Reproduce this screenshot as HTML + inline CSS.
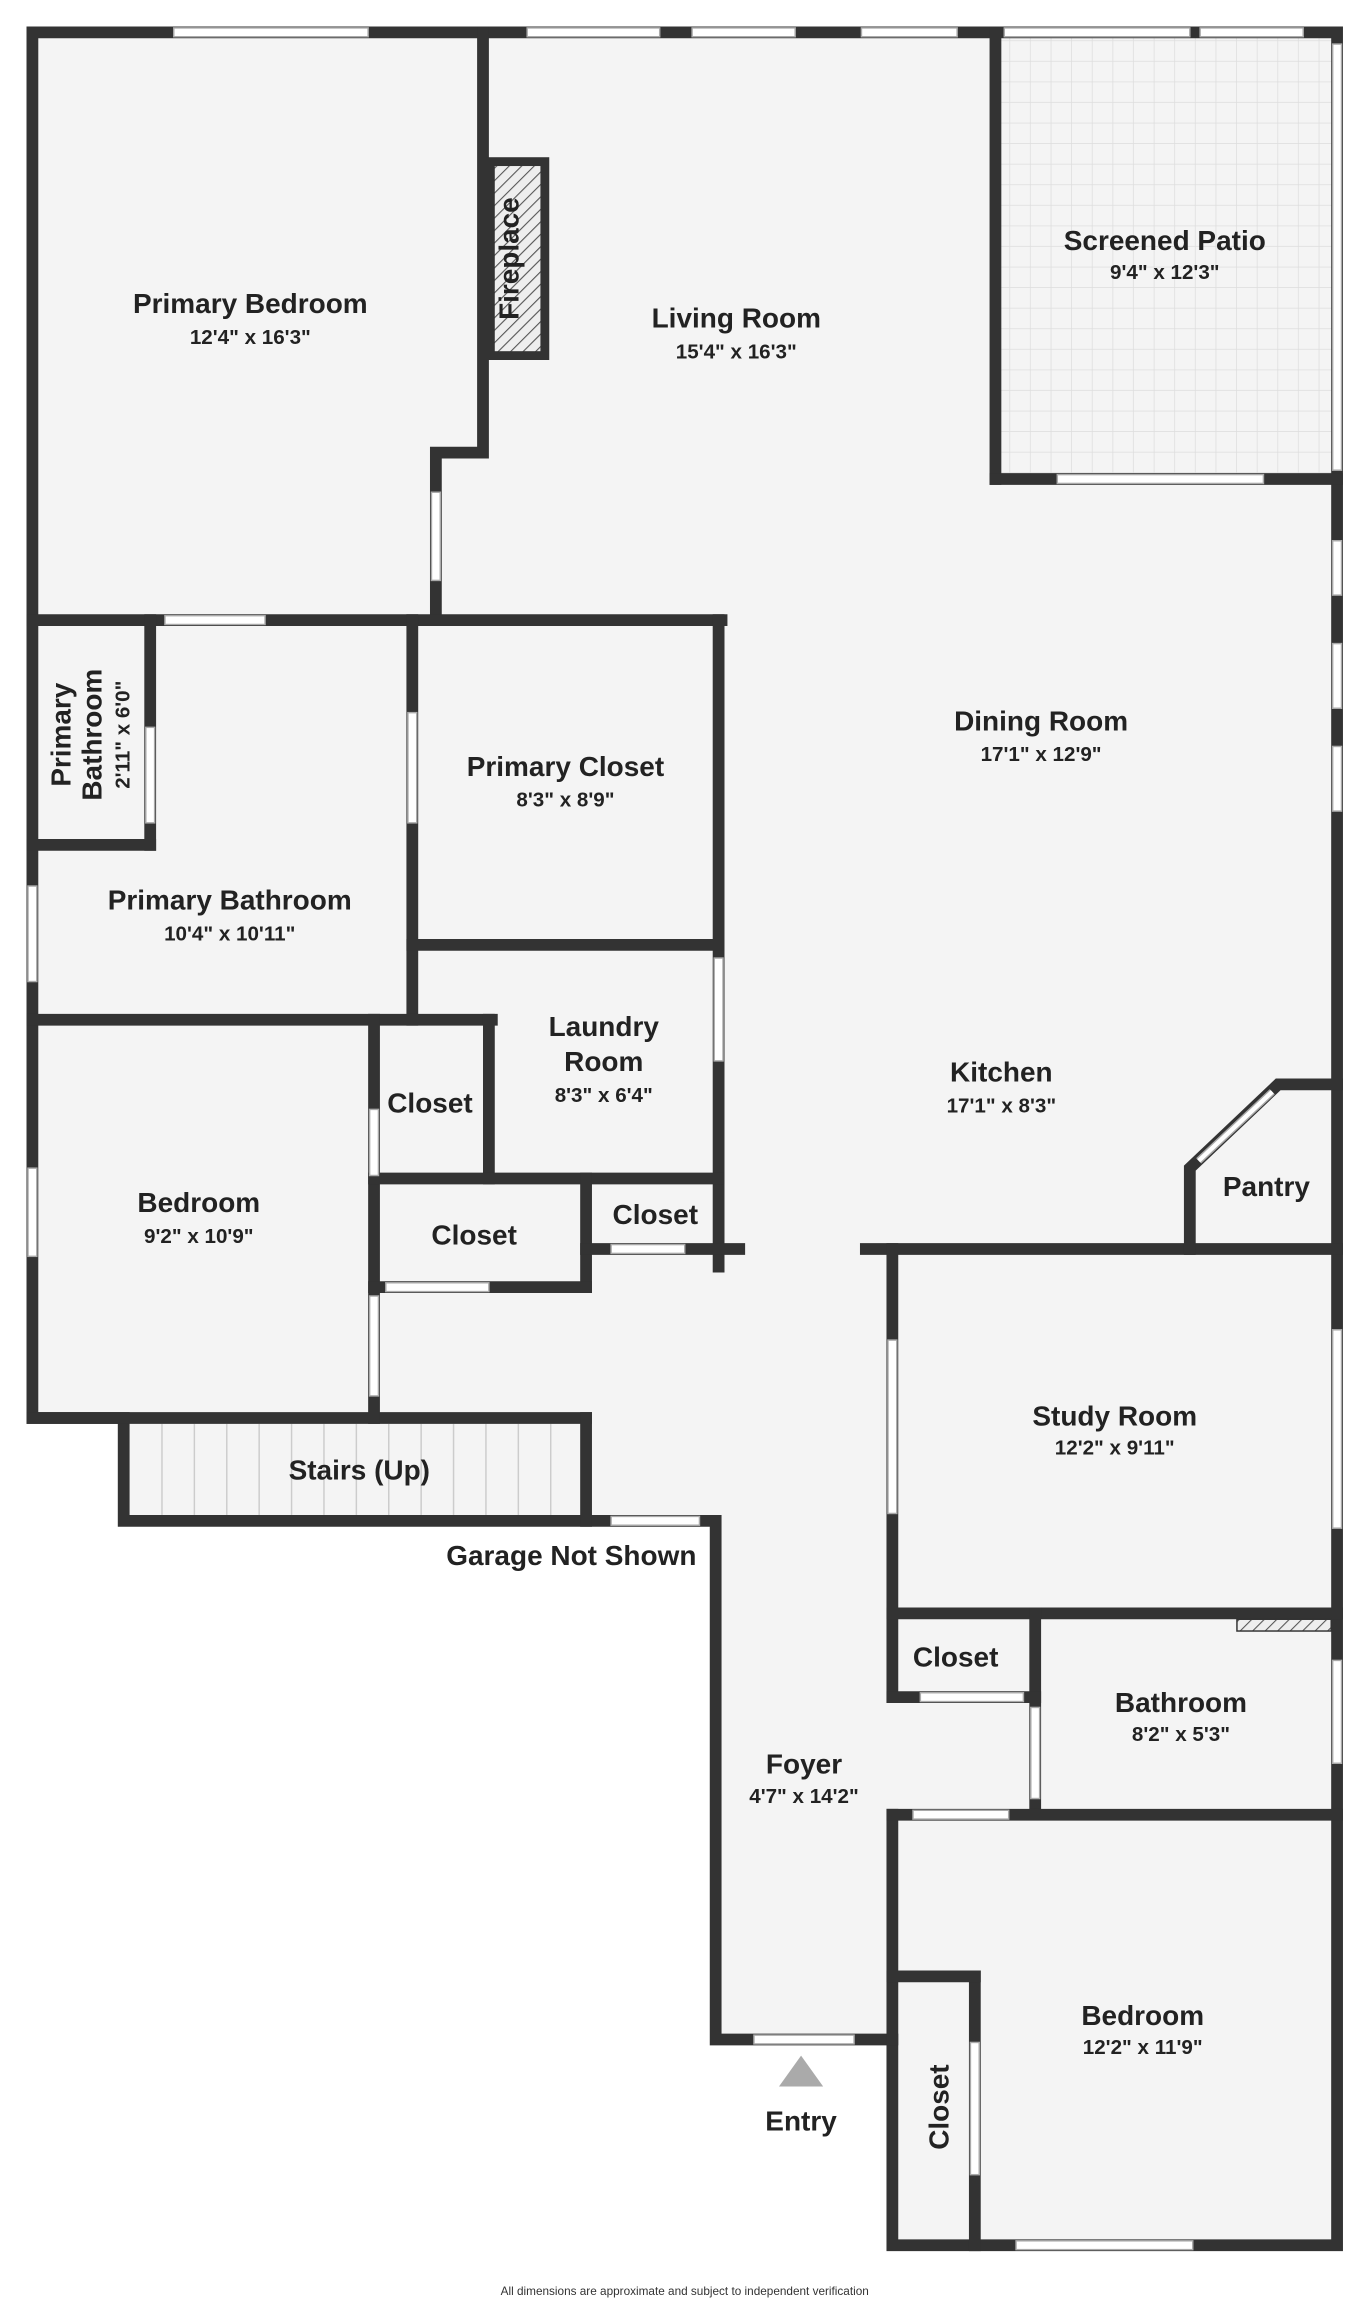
<!DOCTYPE html>
<html><head><meta charset="utf-8"><style>
html,body{margin:0;padding:0;background:#fff;width:1368px;height:2304px;overflow:hidden}
svg{display:block}
.n{font-family:"Liberation Sans",sans-serif;font-weight:bold;font-size:19px;fill:#222;text-anchor:middle}
.d{font-family:"Liberation Sans",sans-serif;font-weight:bold;font-size:14px;fill:#222;text-anchor:middle}
</style></head><body>
<svg width="1368" height="2304" viewBox="0 0 929 1568" preserveAspectRatio="none">
<defs>
<pattern id="grid" width="14" height="14" patternUnits="userSpaceOnUse"><rect width="14" height="14" fill="#f4f4f4"/><path d="M14 0V14H0" fill="none" stroke="#ddd" stroke-width="1"/></pattern>
<pattern id="hatch" width="6" height="6" patternUnits="userSpaceOnUse" patternTransform="rotate(45)"><rect width="6" height="6" fill="#eee"/><line x1="0" y1="0" x2="0" y2="6" stroke="#555" stroke-width="1.5"/></pattern>
</defs>
<rect width="929" height="1568" fill="#fff"/>
<polygon points="22,22 908,22 908,1528 606,1528 606,1388 486,1388 486,1035 84,1035 84,965 22,965" fill="#f4f4f4"/>
<rect x="676" y="22" width="232" height="304" fill="url(#grid)"/>
<g stroke="#ccc" stroke-width="1">
<line x1="110" y1="969" x2="110" y2="1031"/><line x1="132" y1="969" x2="132" y2="1031"/><line x1="154" y1="969" x2="154" y2="1031"/><line x1="176" y1="969" x2="176" y2="1031"/><line x1="198" y1="969" x2="198" y2="1031"/><line x1="220" y1="969" x2="220" y2="1031"/><line x1="242" y1="969" x2="242" y2="1031"/><line x1="264" y1="969" x2="264" y2="1031"/><line x1="286" y1="969" x2="286" y2="1031"/><line x1="308" y1="969" x2="308" y2="1031"/><line x1="330" y1="969" x2="330" y2="1031"/><line x1="352" y1="969" x2="352" y2="1031"/><line x1="374" y1="969" x2="374" y2="1031"/>
</g>
<g stroke="#333" stroke-width="8" fill="none" stroke-linecap="square">
<polygon points="22,22 908,22 908,1528 606,1528 606,1388 486,1388 486,1035 84,1035 84,965 22,965"/>
<line x1="22" y1="965" x2="398" y2="965"/>
<line x1="398" y1="965" x2="398" y2="1035"/>
<polyline points="328,22 328,308 296,308 296,420"/>
<line x1="22" y1="422" x2="490" y2="422"/>
<line x1="102" y1="422" x2="102" y2="575"/>
<line x1="22" y1="575" x2="102" y2="575"/>
<line x1="280" y1="422" x2="280" y2="694"/>
<line x1="488" y1="422" x2="488" y2="862"/>
<line x1="280" y1="643" x2="488" y2="643"/>
<line x1="22" y1="694" x2="334" y2="694"/>
<line x1="332" y1="694" x2="332" y2="802"/>
<line x1="254" y1="694" x2="254" y2="965"/>
<line x1="254" y1="802" x2="488" y2="802"/>
<line x1="398" y1="802" x2="398" y2="876"/>
<line x1="254" y1="876" x2="398" y2="876"/>
<line x1="398" y1="850" x2="502" y2="850"/>
<line x1="588" y1="850" x2="908" y2="850"/>
<polyline points="808,850 808,795 868,738 908,738"/>
<line x1="606" y1="850" x2="606" y2="1155"/>
<line x1="606" y1="1235" x2="606" y2="1388"/>
<line x1="606" y1="1098" x2="908" y2="1098"/>
<line x1="703" y1="1098" x2="703" y2="1232"/>
<line x1="606" y1="1155" x2="703" y2="1155"/>
<line x1="606" y1="1235" x2="908" y2="1235"/>
<line x1="662" y1="1345" x2="662" y2="1528"/>
<line x1="606" y1="1345" x2="662" y2="1345"/>
<line x1="676" y1="22" x2="676" y2="326"/>
<line x1="676" y1="326" x2="908" y2="326"/>
</g>
<rect x="333" y="110" width="37" height="132" fill="url(#hatch)" stroke="#333" stroke-width="6"/>
<rect x="840" y="1102" width="64" height="8" fill="url(#hatch)" stroke="#333" stroke-width="1"/>
<g fill="#fff" stroke="#aaa" stroke-width="1">
<rect x="118" y="19" width="132" height="6"/><rect x="358" y="19" width="90" height="6"/><rect x="470" y="19" width="70" height="6"/><rect x="585" y="19" width="65" height="6"/><rect x="682" y="19" width="126" height="6"/><rect x="815" y="19" width="70" height="6"/>
<rect x="905" y="30" width="6" height="290"/><rect x="905" y="368" width="6" height="37"/><rect x="905" y="438" width="6" height="44"/><rect x="905" y="508" width="6" height="44"/><rect x="905" y="905" width="6" height="135"/><rect x="905" y="1130" width="6" height="70"/>
<rect x="19" y="603" width="6" height="65"/><rect x="19" y="795" width="6" height="60"/>
<rect x="690" y="1525" width="120" height="6"/>
<rect x="718" y="323" width="140" height="6"/>
<rect x="512" y="1385" width="68" height="6"/>
<rect x="415" y="1032" width="60" height="6"/>
<rect x="293" y="335" width="6" height="60"/>
<rect x="112" y="419" width="68" height="6"/>
<rect x="99" y="495" width="6" height="65"/>
<rect x="277" y="485" width="6" height="75"/>
<rect x="485" y="652" width="6" height="70"/>
<rect x="251" y="755" width="6" height="45"/><rect x="251" y="882" width="6" height="68"/>
<rect x="262" y="873" width="70" height="6"/><rect x="415" y="847" width="50" height="6"/>
<rect x="603" y="912" width="6" height="118"/>
<rect x="625" y="1152" width="70" height="6"/><rect x="700" y="1162" width="6" height="62"/><rect x="620" y="1232" width="65" height="6"/>
<rect x="659" y="1390" width="6" height="90"/>
</g>
<line x1="814" y1="790" x2="864" y2="743" stroke="#aaa" stroke-width="5"/>
<line x1="814" y1="790" x2="864" y2="743" stroke="#fff" stroke-width="3"/>
<polygon points="544,1399 529,1420 559,1420" fill="#aaa"/>
<text class="n" x="170" y="213">Primary Bedroom</text><text class="d" x="170" y="234">12'4" x 16'3"</text>
<text class="n" x="500" y="223">Living Room</text><text class="d" x="500" y="244">15'4" x 16'3"</text>
<text class="n" x="352" y="176" transform="rotate(-90 352 176)">Fireplace</text>
<text class="n" x="791" y="170">Screened Patio</text><text class="d" x="791" y="190">9'4" x 12'3"</text>
<text class="n" x="707" y="497">Dining Room</text><text class="d" x="707" y="518">17'1" x 12'9"</text>
<text class="n" x="384" y="528">Primary Closet</text><text class="d" x="384" y="549">8'3" x 8'9"</text>
<g transform="rotate(-90 62 500)"><text class="n" x="62" y="486">Primary</text><text class="n" x="62" y="507">Bathroom</text><text class="d" x="62" y="526">2'11" x 6'0"</text></g>
<text class="n" x="156" y="619">Primary Bathroom</text><text class="d" x="156" y="640">10'4" x 10'11"</text>
<text class="n" x="410" y="705">Laundry</text><text class="n" x="410" y="729">Room</text><text class="d" x="410" y="750">8'3" x 6'4"</text>
<text class="n" x="292" y="757">Closet</text>
<text class="n" x="680" y="736">Kitchen</text><text class="d" x="680" y="757">17'1" x 8'3"</text>
<text class="n" x="860" y="814">Pantry</text>
<text class="n" x="135" y="825">Bedroom</text><text class="d" x="135" y="846">9'2" x 10'9"</text>
<text class="n" x="322" y="847">Closet</text>
<text class="n" x="445" y="833">Closet</text>
<text class="n" x="757" y="970">Study Room</text><text class="d" x="757" y="990">12'2" x 9'11"</text>
<text class="n" x="244" y="1007">Stairs (Up)</text>
<text class="n" x="388" y="1065">Garage Not Shown</text>
<text class="n" x="649" y="1134">Closet</text>
<text class="n" x="802" y="1165">Bathroom</text><text class="d" x="802" y="1185">8'2" x 5'3"</text>
<text class="n" x="546" y="1207">Foyer</text><text class="d" x="546" y="1227">4'7" x 14'2"</text>
<text class="n" x="776" y="1378">Bedroom</text><text class="d" x="776" y="1398">12'2" x 11'9"</text>
<text class="n" x="644" y="1434" transform="rotate(-90 644 1434)">Closet</text>
<text class="n" x="544" y="1450">Entry</text>
<text x="465" y="1562" style="font-family:'Liberation Sans',sans-serif;font-size:8px;fill:#333;text-anchor:middle">All dimensions are approximate and subject to independent verification</text>
</svg>
</body></html>
